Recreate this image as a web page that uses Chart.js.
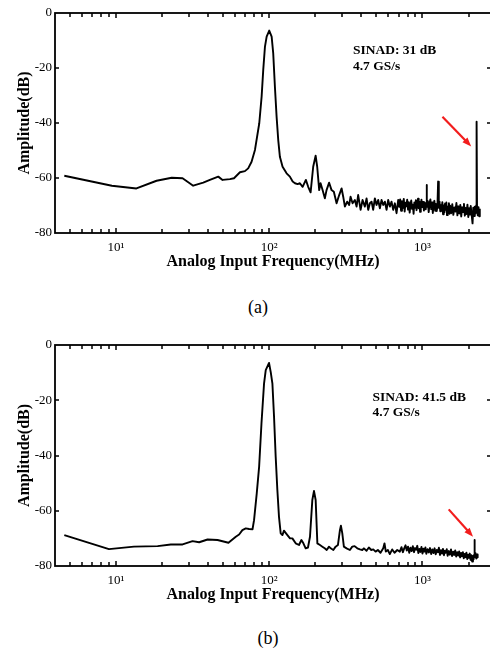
<!DOCTYPE html>
<html>
<head>
<meta charset="utf-8">
<script src="https://cdn.jsdelivr.net/npm/chart.js@4.4.1/dist/chart.umd.min.js"></script>
<style>
html, body { margin: 0; padding: 0; background: #fff; }
body { width: 490px; height: 653px; overflow: hidden; position: relative; font-family: "Liberation Serif", serif; }
canvas { position: absolute; left: 0; }
#chartA { top: 0; }
#chartB { top: 332px; }
.cap { position: absolute; font-size: 18px; color: #000; transform: translate(-50%, -50%); }
</style>
</head>
<body>
<canvas id="chartA" width="491" height="272"></canvas>
<div class="cap" style="left:258px; top:307px;">(a)</div>
<canvas id="chartB" width="491" height="273"></canvas>
<div class="cap" style="left:268px; top:638px;">(b)</div>
<script>
const FONT = "'Liberation Serif', 'Times New Roman', serif";

const xTickValues = [5, 6, 7, 8, 9, 10, 20, 30, 40, 50, 60, 70, 80, 90, 100, 200, 300, 400, 500, 600, 700, 800, 900, 1000, 2000];
const xMajorValues = [10, 100, 1000];
const xMajorLabels = ["10\u00b9", "10\u00b2", "10\u00b3"];
const yTickValues = [-80, -60, -40, -20, 0];

// (a) spectrum, frequency in MHz / amplitude in dB
const freqA = [
4.6, 9.4, 13.6, 18.4, 23.1, 27.2, 31.9, 37.1, 41.0, 46.5, 49.6, 55.4, 58.9, 64.4, 69.4, 72.9, 76.7, 80.7,
86.1, 89.2, 91.4, 93.8, 96.2, 100.0, 103.7, 106.2, 108.9, 111.7, 114.5, 117.4, 122.2, 129.8, 136.4, 142.2,
147.2, 153.2, 158.5, 165.2, 173.4, 179.6, 186.2, 193.6, 200.8, 205.6, 211.9, 216.3, 222.9, 230.7, 236.6,
246.0, 255.1, 264.0, 275.1, 286.1, 296.7, 303.9, 311.7, 322.6, 332.4, 339.5, 349.8, 362.1, 371.5, 380.5,
394.7, 406.5, 420.8, 431.6, 442.5, 453.8, 465.4, 476.7, 488.9, 501.4, 514.0, 527.2, 540.8, 554.3, 568.4,
582.9, 597.5, 612.7, 628.3, 644.0, 660.5, 677.3, 694.2,
705, 715, 725, 735, 745, 755, 765, 775, 785, 795, 805, 815, 825, 835, 845, 855, 865, 875, 885, 895,
905, 915, 925, 935, 945, 955, 965, 975, 985, 995, 1008, 1022, 1036, 1050, 1058, 1064, 1070, 1084, 1098,
1112, 1126, 1140, 1154, 1168, 1182, 1196, 1210, 1224, 1238, 1252, 1265, 1278, 1292, 1306, 1320, 1334,
1348, 1362, 1376, 1390, 1404, 1418, 1432, 1446, 1460, 1474, 1488, 1502, 1516, 1540, 1565, 1590, 1615,
1640, 1665, 1690, 1715, 1740, 1765, 1790, 1815, 1840, 1865, 1890, 1915, 1940, 1965, 1990, 2015, 2040,
2065, 2090, 2122, 2145, 2170, 2195, 2220, 2240, 2255, 2270, 2295, 2320, 2345, 2366
];
const ampA = [
-59.2, -62.8, -63.8, -61.0, -59.9, -60.1, -62.8, -61.7, -60.7, -59.5, -60.7, -60.4, -60.1, -57.9, -57.5, -56.5, -54.1, -49.8,
-40.1, -30.4, -20.7, -12.2, -8.6, -6.4, -8.6, -14.7, -26.8, -37.7, -46.2, -52.3, -55.9, -58.3, -59.5, -61.3,
-61.9, -62.2, -61.9, -63.2, -60.7, -63.2, -65.2, -55.9, -51.9, -55.9, -64.4, -61.9, -64.4, -67.4, -64.4,
-61.7, -64.4, -65.0, -69.2, -66.2, -63.8, -66.8, -70.4, -68.6, -69.8, -66.8, -69.2, -68.0, -70.4, -66.2,
-71.6, -68.0, -70.4, -67.4, -71.6, -69.2, -68.6, -71.6, -67.4, -69.8, -68.0, -71.0, -68.0, -69.8, -68.6,
-71.6, -68.0, -70.4, -68.6, -71.6, -69.2, -72.8, -68.0,
-70.5, -67.8, -71.9, -68.4, -70.9, -67.6, -72.2, -69.0, -70.3, -67.9, -71.5, -68.8, -72.6, -69.5, -68.2, -71.2, -69.7, -73.0, -68.9, -70.8,
-68.1, -71.7, -69.3, -67.5, -71.0, -68.6, -72.3, -69.8, -67.9, -70.6, -68.7, -71.8, -69.0, -71.4, -69.5, -62.5, -70.5, -68.4, -72.4,
-69.2, -67.8, -71.3, -68.9, -72.7, -69.6, -68.3, -71.9, -69.4, -72.0, -70.2, -61.3, -70.8, -68.6, -72.1, -69.9, -71.4,
-68.8, -73.2, -70.0, -72.5, -69.3, -71.6, -68.9, -73.5, -70.4, -72.0, -69.2, -73.0, -70.1, -72.8, -69.5, -73.4, -70.7,
-72.2, -69.1, -73.6, -70.3, -72.9, -69.8, -74.0, -70.6, -72.4, -69.4, -73.7, -70.9, -73.1, -69.7, -74.2, -71.0, -73.3,
-70.2, -73.0, -76.5, -70.8, -73.8, -70.4, -72.9, -70.0, -39.5, -71.5, -73.6, -70.6, -73.9, -71.2
];

// (b) spectrum
const freqB = [
4.6, 9.0, 13.1, 18.7, 22.8, 27.2, 31.6, 34.9, 39.6, 46.0, 54.2, 60.5, 63.6, 66.8, 70.3, 73.9, 77.8, 79.6,
82.9, 85.9, 89.0, 92.5, 94.9, 99.7, 102.3, 104.9, 107.5, 110.2, 113.0, 115.8, 118.8, 121.9, 124.8, 128.0,
131.4, 136.7, 141.6, 148.8, 156.4, 162.2, 167.1, 172.9, 179.0, 184.5, 191.1, 195.9, 200.9, 206.1, 214.3,
222.2, 230.2, 237.2, 245.6, 251.9, 262.0, 271.2, 280.7, 289.3, 293.6, 299.8, 307.0, 319.8, 336.0, 348.2,
360.6, 375.5, 390.7, 404.7, 414.8, 431.5, 446.8, 463.2, 477.4, 494.2, 511.6, 532.3, 554.6, 565.3, 576.5,
594.2, 612.3, 634.6, 657.1, 684.4, 711.6,
730, 745, 760, 775, 790, 805, 820, 835, 850, 865, 880, 895, 910, 925, 940, 955, 970, 985, 1000, 1015,
1030, 1045, 1060, 1080, 1100, 1120, 1140, 1160, 1180, 1200, 1220, 1240, 1260, 1280, 1300, 1320, 1340,
1360, 1380, 1400, 1420, 1440, 1460, 1485, 1510, 1535, 1560, 1585, 1610, 1635, 1660, 1685, 1710, 1735,
1760, 1785, 1810, 1835, 1860, 1885, 1910, 1935, 1960, 1985, 2010, 2035, 2060, 2085, 2110, 2135, 2155,
2170, 2183, 2196, 2220, 2245, 2270, 2291
];
const ampB = [
-68.8, -73.9, -73.0, -72.8, -72.2, -72.2, -71.0, -71.4, -70.4, -70.6, -71.6, -69.4, -68.6, -67.0, -66.4, -66.6, -66.7, -63.4,
-53.7, -44.1, -28.4, -14.0, -9.1, -6.5, -9.8, -14.0, -26.0, -40.5, -52.5, -62.2, -68.2, -68.8, -67.2, -68.0,
-68.8, -70.0, -70.0, -71.8, -72.4, -70.6, -71.8, -73.6, -73.3, -69.4, -56.1, -52.8, -56.1, -71.8, -72.4,
-73.0, -73.6, -74.2, -73.0, -73.6, -74.2, -73.0, -72.4, -67.0, -65.4, -68.2, -73.0, -73.6, -74.2, -73.0,
-72.8, -73.6, -74.0, -74.2, -73.6, -74.5, -73.3, -74.2, -74.0, -74.8, -74.2, -75.2, -73.6, -71.8, -74.8,
-74.2, -75.7, -74.0, -75.2, -74.2, -74.8,
-73.2, -75.0, -73.6, -72.5, -74.4, -73.0, -75.2, -73.4, -74.6, -72.8, -75.0, -73.5, -74.1, -72.7, -75.3, -73.8, -74.9, -73.1, -75.5, -73.7,
-74.8, -73.3, -75.6, -73.9, -75.1, -73.5, -75.7, -74.0, -75.3, -73.6, -75.8, -74.2, -75.0, -73.4, -76.0, -74.3, -75.5,
-73.8, -76.1, -74.5, -75.2, -73.9, -76.3, -74.6, -75.9, -74.0, -76.4, -74.8, -76.0, -74.4, -76.6, -75.0, -76.2, -74.7,
-76.9, -75.3, -76.5, -75.0, -77.2, -75.6, -76.8, -75.2, -77.5, -75.9, -77.0, -75.5, -77.8, -76.1, -78.4, -76.4, -77.6,
-76.0, -70.6, -76.8, -75.4, -77.3, -75.8, -76.9
];

const notesA = ["SINAD: 31 dB", "4.7 GS/s"];
const notesB = ["SINAD: 41.5 dB", "4.7 GS/s"];

function toPoints(xs, ys) {
const out = [];
for (let i = 0; i < xs.length; i++) {
out.push({ x: xs[i], y: ys[i] });
}
return out;
}

const decorPlugin = {
id: "decor",
afterDraw(chart, args, opts) {
const ctx = chart.ctx;
const area = chart.chartArea;
const xs = chart.scales.x;
const ys = chart.scales.y;
ctx.save();
ctx.strokeStyle = "#000";
ctx.lineWidth = 1.8;
ctx.strokeRect(area.left, area.top, area.right - area.left, area.bottom - area.top);
ctx.lineWidth = 1.5;
ctx.beginPath();
for (let i = 0; i < xTickValues.length; i++) {
const v = xTickValues[i];
const px = Math.round(xs.getPixelForValue(v));
const len = xMajorValues.includes(v) ? 5 : 4;
ctx.moveTo(px, area.bottom);
ctx.lineTo(px, area.bottom - len);
ctx.moveTo(px, area.top);
ctx.lineTo(px, area.top + len);
}
for (let i = 1; i < yTickValues.length - 1; i++) {
const py = Math.round(ys.getPixelForValue(yTickValues[i]));
ctx.moveTo(area.left, py);
ctx.lineTo(area.left + 4, py);
ctx.moveTo(area.right, py);
ctx.lineTo(area.right - 4, py);
}
ctx.stroke();

ctx.fillStyle = "#000";
ctx.font = "bold 13.5px " + FONT;
ctx.textBaseline = "middle";
ctx.textAlign = "left";
for (let i = 0; i < opts.notes.length; i++) {
ctx.fillText(opts.notes[i], xs.getPixelForValue(opts.noteX), ys.getPixelForValue(opts.noteY[i]));
}

const x0 = xs.getPixelForValue(opts.arrowFrom[0]);
const y0 = ys.getPixelForValue(opts.arrowFrom[1]);
const x1 = xs.getPixelForValue(opts.arrowTo[0]);
const y1 = ys.getPixelForValue(opts.arrowTo[1]);
const ang = Math.atan2(y1 - y0, x1 - x0);
const head = 9;
ctx.strokeStyle = "#f21d1d";
ctx.fillStyle = "#f21d1d";
ctx.lineWidth = 2.2;
ctx.beginPath();
ctx.moveTo(x0, y0);
ctx.lineTo(x1 - head * 0.8 * Math.cos(ang), y1 - head * 0.8 * Math.sin(ang));
ctx.stroke();
ctx.beginPath();
ctx.moveTo(x1, y1);
ctx.lineTo(x1 - head * Math.cos(ang) + 3.5 * Math.sin(ang), y1 - head * Math.sin(ang) - 3.5 * Math.cos(ang));
ctx.lineTo(x1 - head * Math.cos(ang) - 3.5 * Math.sin(ang), y1 - head * Math.sin(ang) + 3.5 * Math.cos(ang));
ctx.closePath();
ctx.fill();
ctx.restore();
}
};

function makeChart(id, freqs, amps, decor) {
const el = document.getElementById(id);
return new Chart(el, {
type: "line",
data: {
datasets: [
{
data: toPoints(freqs, amps),
borderColor: "#000",
borderWidth: 1.9,
borderJoinStyle: "round",
pointRadius: 0,
tension: 0,
fill: false
}
]
},
options: {
responsive: false,
animation: false,
devicePixelRatio: 1,
layout: {
padding: { top: 13, right: 0, bottom: 1, left: 0 }
},
plugins: {
legend: { display: false },
tooltip: { enabled: false },
decor: decor
},
scales: {
x: {
type: "logarithmic",
min: 4,
max: 2800,
afterBuildTicks: scale => {
scale.ticks = xTickValues.map(v => ({ value: v }));
},
afterFit: scale => {
scale.height = 38;
},
grid: { display: false, drawTicks: false },
border: { display: false },
ticks: {
autoSkip: false,
maxRotation: 0,
padding: 7,
color: "#000",
font: { family: FONT, size: 13 },
callback: value => {
const k = xMajorValues.indexOf(Number(value));
return k >= 0 ? xMajorLabels[k] : "";
}
},
title: {
display: true,
text: "Analog Input Frequency(MHz)",
color: "#000",
font: { family: FONT, size: 16, weight: "bold" },
padding: 0
}
},
y: {
min: -80,
max: 0,
afterBuildTicks: scale => {
scale.ticks = yTickValues.map(v => ({ value: v }));
},
afterFit: scale => {
scale.width = 55;
},
grid: { display: false, drawTicks: false },
border: { display: false },
ticks: {
padding: 3,
color: "#000",
font: { family: FONT, size: 13 }
},
title: {
display: true,
text: "Amplitude(dB)",
color: "#000",
font: { family: FONT, size: 16, weight: "bold" },
padding: { top: 15, bottom: 0 }
}
}
}
},
plugins: [decorPlugin]
});
}

makeChart("chartA", freqA, ampA, {
notes: notesA,
noteX: 352,
noteY: [-13.8, -19.6],
arrowFrom: [1350, -37.7],
arrowTo: [2080, -48.5]
});
makeChart("chartB", freqB, ampB, {
notes: notesB,
noteX: 472,
noteY: [-18.9, -24.3],
arrowFrom: [1483, -59.5],
arrowTo: [2138, -69.4]
});
</script>
</body>
</html>
